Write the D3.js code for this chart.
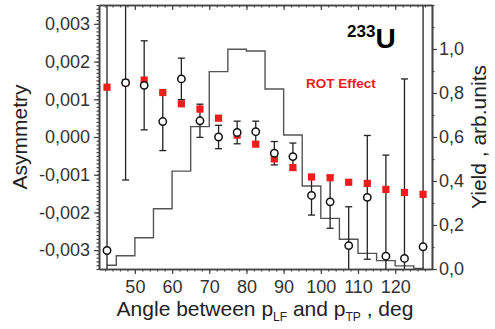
<!DOCTYPE html>
<html>
<head>
<meta charset="utf-8">
<script src="https://cdn.jsdelivr.net/npm/d3@7"></script>
<style>
  body { margin: 0; background: #fff; }
  svg { display: block; font-family: "Liberation Sans", Arial, sans-serif; }
  .axis path, .axis line { stroke: #444; }
  .axis text { fill: #333; font-size: 18px; font-family: "Liberation Sans", Arial, sans-serif; }
</style>
</head>
<body>
<svg id="chart" width="495" height="329"></svg>
<script>
// angle bins (deg), bin centres
const angles = [42.5, 47.5, 52.5, 57.5, 62.5, 67.5, 72.5, 77.5, 82.5, 87.5, 92.5, 97.5, 102.5, 107.5, 112.5, 117.5, 122.5, 127.5];
// measured asymmetry (open circles) and its errors
const asym = [-0.00301, 0.00144, 0.00137, 0.00041, 0.00154, 0.00043, 0.0, 0.00012, 0.00014, -0.00043, -0.00052, -0.00155, -0.00172, -0.00288, -0.0016, -0.00316, -0.00322, -0.00291];
const asymErr = [0.008, 0.00258, 0.00118, 0.00077, 0.00055, 0.00044, 0.00031, 0.0003, 0.00028, 0.00031, 0.00036, 0.00052, 0.0007, 0.00103, 0.00164, 0.00268, 0.00476, 0.007];
// ROT effect (red squares)
const rot = [0.00132, 0.00144, 0.00151, 0.00118, 0.00088, 0.00074, 0.0005, 0.00005, -0.00019, -0.00058, -0.00081, -0.00106, -0.00108, -0.0012, -0.00123, -0.00139, -0.00147, -0.00152];
// yield histogram (right axis)
const yieldVals = [0.017, 0.06, 0.142, 0.274, 0.445, 0.647, 0.897, 0.999, 0.991, 0.818, 0.609, 0.377, 0.23, 0.135, 0.071, 0.038, 0.014, 0.003];

const xTicks = [50, 60, 70, 80, 90, 100, 110, 120];
const yTicks = [-0.003, -0.002, -0.001, 0, 0.001, 0.002, 0.003];
const y2Ticks = [0, 0.2, 0.4, 0.6, 0.8, 1.0];

const margin = { left: 99, right: 63, top: 5, bottom: 60 };
const W = 495, H = 329;
const svg = d3.select("#chart");

const x = d3.scaleLinear().domain([40.35, 129.9]).range([margin.left, W - margin.right]);
const y = d3.scaleLinear().domain([-0.0035, 0.0035]).range([H - margin.bottom, margin.top]);
const y2 = d3.scaleLinear().domain([0, 1.2]).range([H - margin.bottom, margin.top]);

const loc = d3.formatLocale({ decimal: ",", thousands: " ", grouping: [3], currency: ["", ""], minus: "-" });
const fmt3 = loc.format(".3f");
const fmt1 = loc.format(".1f");

svg.append("defs").append("clipPath").attr("id", "plotclip")
  .append("rect")
  .attr("x", margin.left).attr("y", margin.top)
  .attr("width", W - margin.left - margin.right)
  .attr("height", H - margin.top - margin.bottom);

const plot = svg.append("g").attr("clip-path", "url(#plotclip)");

// histogram
const hist = d3.line().x((d, i) => x(angles[i])).y(d => y2(d)).curve(d3.curveStep);
plot.append("path").datum(yieldVals)
  .attr("d", hist).attr("fill", "none").attr("stroke", "#555").attr("stroke-width", 1.4);

// error bars
const pts = angles.map((a, i) => ({ a, v: asym[i], e: asymErr[i], r: rot[i] }));
const eb = plot.append("g").attr("stroke", "#222").attr("stroke-width", 1.3);
pts.forEach(d => {
  eb.append("line").attr("x1", x(d.a)).attr("x2", x(d.a)).attr("y1", y(d.v + d.e)).attr("y2", y(d.v - d.e));
  [d.v + d.e, d.v - d.e].forEach(v => {
    eb.append("line").attr("x1", x(d.a) - 3.5).attr("x2", x(d.a) + 3.5).attr("y1", y(v)).attr("y2", y(v));
  });
});

// ROT effect squares
plot.append("g").selectAll("rect").data(pts).join("rect")
  .attr("x", d => x(d.a) - 3.6).attr("y", d => y(d.r) - 3.6)
  .attr("width", 7.2).attr("height", 7.2)
  .attr("fill", "#ee1c1c");

// measured points
plot.append("g").selectAll("circle").data(pts).join("circle")
  .attr("cx", d => x(d.a)).attr("cy", d => y(d.v)).attr("r", 3.7)
  .attr("fill", "#fff").attr("stroke", "#111").attr("stroke-width", 1.5);

// axes
const bottom = H - margin.bottom, right = W - margin.right;
function axisG(axis, tx, ty) {
  const g = svg.append("g").attr("class", "axis").attr("transform", `translate(${tx},${ty})`).call(axis);
  g.selectAll("line").attr("stroke-width", 1.2);
  g.select(".domain").attr("stroke-width", 1.6);
  return g;
}
const xMinor = d3.range(42, 130, 2);
const yMinor = d3.range(-35, 36, 1).map(v => v / 10000);
const y2Minor = d3.range(0, 12.5, 1).map(v => v / 10);

axisG(d3.axisBottom(x).tickValues(xMinor).tickSize(2.5).tickFormat("").tickSizeOuter(0), 0, bottom);
axisG(d3.axisBottom(x).tickValues(xTicks).tickSize(5).tickPadding(6).tickSizeOuter(0), 0, bottom);
axisG(d3.axisBottom(x).tickValues(xMinor).tickSize(2.5).tickFormat("").tickSizeOuter(0), 0, margin.top);
axisG(d3.axisBottom(x).tickValues(xTicks).tickSize(5).tickFormat("").tickSizeOuter(0), 0, margin.top);
axisG(d3.axisLeft(y).tickValues(yMinor).tickSize(2.5).tickFormat("").tickSizeOuter(0), margin.left, 0);
axisG(d3.axisLeft(y).tickValues(yTicks).tickSize(5).tickPadding(4).tickFormat(fmt3).tickSizeOuter(0), margin.left, 0);
axisG(d3.axisRight(y2).tickValues(y2Minor).tickSize(2.5).tickFormat("").tickSizeOuter(0), right, 0);
axisG(d3.axisRight(y2).tickValues(y2Ticks).tickSize(5).tickPadding(2).tickFormat(fmt1).tickSizeOuter(0), right, 0);

// titles
svg.append("text").attr("transform", `translate(27,${(margin.top + bottom) / 2}) rotate(-90)`)
  .attr("text-anchor", "middle").attr("font-size", 21).attr("fill", "#222").text("Asymmetry");
svg.append("text").attr("transform", `translate(486,${(margin.top + bottom) / 2}) rotate(-90)`)
  .attr("text-anchor", "middle").attr("font-size", 21).attr("fill", "#222").text("Yield , arb.units");

const xt = svg.append("text").attr("x", 265).attr("y", 316).attr("text-anchor", "middle")
  .attr("font-size", 21).attr("fill", "#222");
xt.append("tspan").text("Angle between p");
xt.append("tspan").attr("font-size", 12).attr("dy", 5).text("LF");
xt.append("tspan").attr("dy", -5).text(" and p");
xt.append("tspan").attr("font-size", 12).attr("dy", 5).text("TP");
xt.append("tspan").attr("dy", -5).text(" , deg");

// labels in plot
const iso = svg.append("text").attr("x", 347).attr("y", 48).attr("font-weight", "bold").attr("fill", "#000");
iso.append("tspan").attr("font-size", 17).attr("dy", -11).text("233");
iso.append("tspan").attr("font-size", 28).attr("dy", 11).text("U");

svg.append("text").attr("x", 306).attr("y", 88).attr("font-size", 13.5).attr("font-weight", "bold")
  .attr("fill", "#ee1c1c").text("ROT Effect");
</script>
</body>
</html>
